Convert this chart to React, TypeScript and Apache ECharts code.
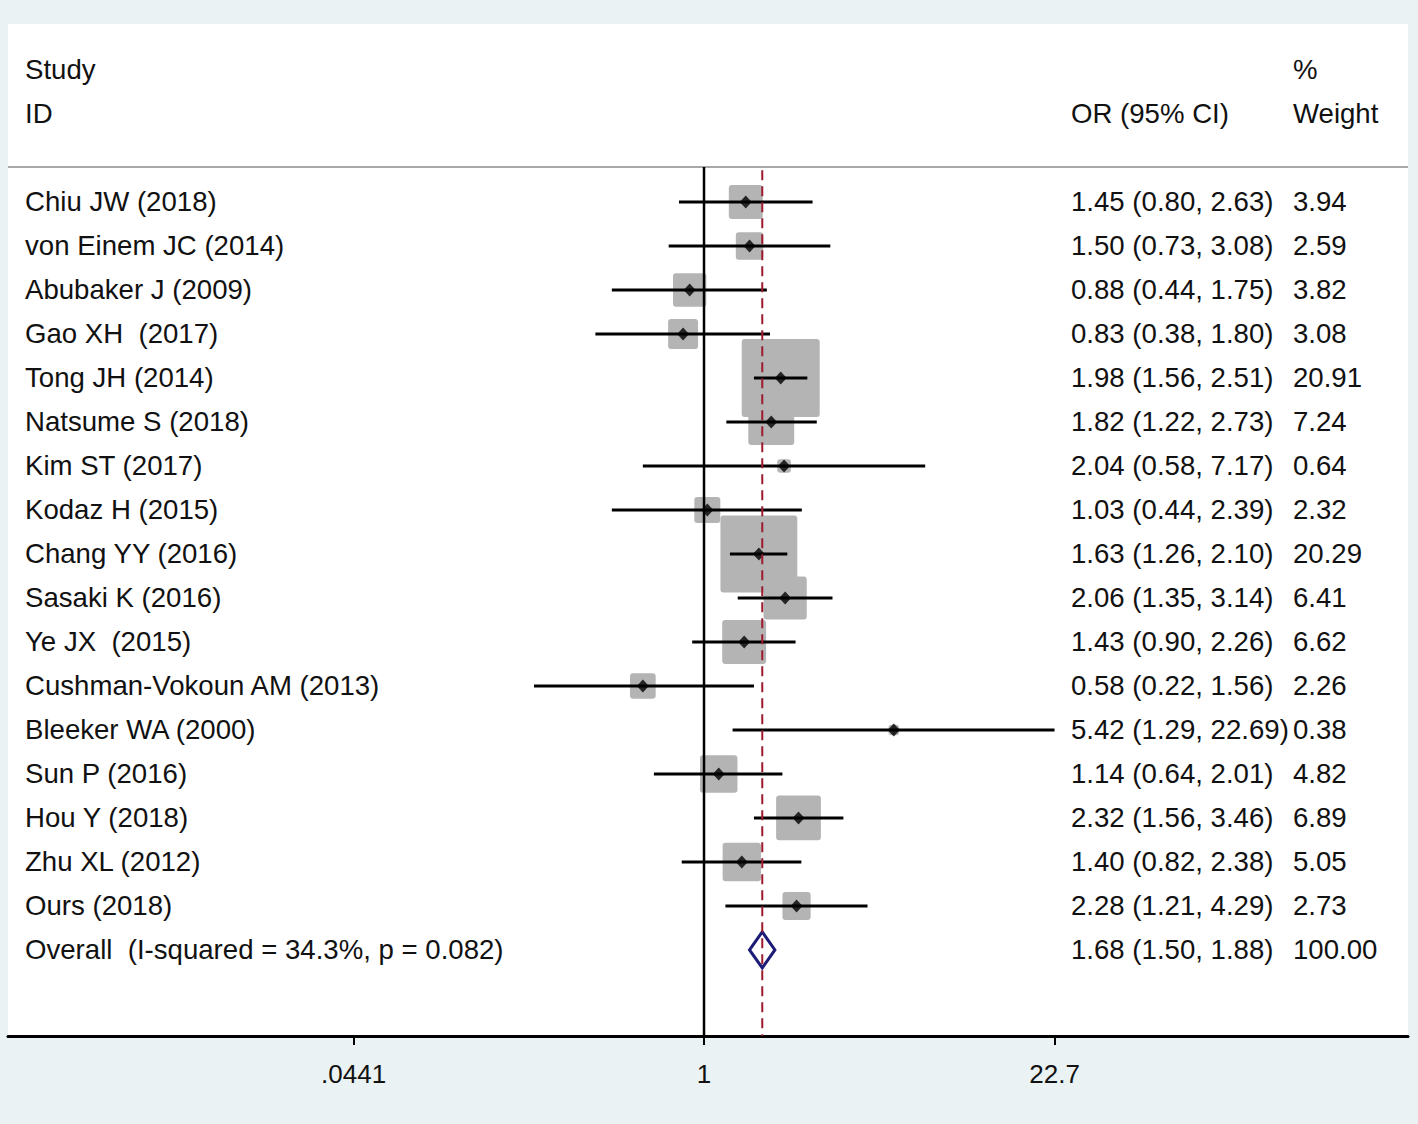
import React, { useEffect, useRef } from "react";
import * as echarts from "echarts";

const studies = [
  "Chiu JW (2018)",
  "von Einem JC (2014)",
  "Abubaker J (2009)",
  "Gao XH  (2017)",
  "Tong JH (2014)",
  "Natsume S (2018)",
  "Kim ST (2017)",
  "Kodaz H (2015)",
  "Chang YY (2016)",
  "Sasaki K (2016)",
  "Ye JX  (2015)",
  "Cushman-Vokoun AM (2013)",
  "Bleeker WA (2000)",
  "Sun P (2016)",
  "Hou Y (2018)",
  "Zhu XL (2012)",
  "Ours (2018)",
];
const orValues = [1.45, 1.5, 0.88, 0.83, 1.98, 1.82, 2.04, 1.03, 1.63, 2.06, 1.43, 0.58, 5.42, 1.14, 2.32, 1.4, 2.28];
const ciLower = [0.8, 0.73, 0.44, 0.38, 1.56, 1.22, 0.58, 0.44, 1.26, 1.35, 0.9, 0.22, 1.29, 0.64, 1.56, 0.82, 1.21];
const ciUpper = [2.63, 3.08, 1.75, 1.8, 2.51, 2.73, 7.17, 2.39, 2.1, 3.14, 2.26, 1.56, 22.69, 2.01, 3.46, 2.38, 4.29];
const weights = [3.94, 2.59, 3.82, 3.08, 20.91, 7.24, 0.64, 2.32, 20.29, 6.41, 6.62, 2.26, 0.38, 4.82, 6.89, 5.05, 2.73];

const overallLabel = "Overall  (I-squared = 34.3%, p = 0.082)";
const overallOR = 1.68;
const overallLower = 1.5;
const overallUpper = 1.88;
const overallWeight = 100.0;

const headerLeft = ["Study", "ID"];
const headerOR = "OR (95% CI)";
const headerWeight = ["%", "Weight"];

const tickValues = [0.0441, 1, 22.7];
const tickLabels = [".0441", "1", "22.7"];

const FONT = "'Liberation Sans', Arial, Helvetica, sans-serif";

export default function App() {
  const ref = useRef<HTMLDivElement>(null);
  useEffect(() => {
    document.body.style.margin = "0";
    const chart = echarts.init(ref.current!, null, { renderer: "svg" });
    const ln = Math.log;
    const n = studies.length;

    const xMin = -6.199;
    const xMax = 6.27;
    const yMin = -4.045;
    const yMax = 18.955;
    const sepY = -0.795;

    const fmt = (v: number) => v.toFixed(2);
    const textRows: any[] = [];
    studies.forEach((s, i) => {
      textRows.push([i, s, `${fmt(orValues[i])} (${fmt(ciLower[i])}, ${fmt(ciUpper[i])})`, fmt(weights[i])]);
    });
    textRows.push([n, overallLabel, `${fmt(overallOR)} (${fmt(overallLower)}, ${fmt(overallUpper)})`, fmt(overallWeight)]);
    textRows.push([-3, headerLeft[0], "", headerWeight[0]]);
    textRows.push([-2, headerLeft[1], headerOR, headerWeight[1]]);

    const textStyle = (t: string, x: number, y: number) => ({
      type: "text",
      x,
      y,
      style: {
        text: t,
        fill: "#111",
        fontSize: 27.6,
        fontFamily: FONT,
        verticalAlign: "middle",
        align: "left",
      },
    });

    const option: any = {
      animation: false,
      backgroundColor: "#eaf2f3",
      grid: {
        left: 8,
        top: 24,
        width: 1400,
        height: 1012,
        show: true,
        backgroundColor: "#ffffff",
        borderWidth: 0,
      },
      xAxis: {
        type: "value",
        min: xMin,
        max: xMax,
        position: "bottom",
        axisLine: { show: true, onZero: false, lineStyle: { color: "#000", width: 3 } },
        axisTick: {
          show: true,
          customValues: tickValues.map((v) => ln(v)),
          length: 9,
          lineStyle: { color: "#000", width: 2 },
        },
        axisLabel: {
          show: true,
          customValues: tickValues.map((v) => ln(v)),
          formatter: (v: number) => {
            let best = 0;
            tickValues.forEach((t, k) => {
              if (Math.abs(ln(t) - v) < Math.abs(ln(tickValues[best]) - v)) best = k;
            });
            return tickLabels[best];
          },
          color: "#111",
          fontSize: 26,
          fontFamily: FONT,
          margin: 25,
        },
        splitLine: { show: false },
      },
      yAxis: {
        type: "value",
        min: yMin,
        max: yMax,
        inverse: true,
        show: false,
        splitLine: { show: false },
      },
      series: [
        {
          type: "line",
          name: "sep",
          data: [
            [xMin, sepY],
            [xMax, sepY],
          ],
          symbol: "none",
          lineStyle: { color: "#a8a8a8", width: 2 },
          silent: true,
        },
        {
          type: "line",
          name: "null",
          data: [
            [0, sepY],
            [0, yMax],
          ],
          symbol: "none",
          lineStyle: { color: "#000", width: 2.5 },
          silent: true,
        },
        {
          type: "line",
          name: "overallLine",
          data: [
            [ln(overallOR), -0.72],
            [ln(overallOR), yMax],
          ],
          symbol: "none",
          lineStyle: { color: "#9b1c2c", width: 2, type: [10, 6] },
          silent: true,
        },
        {
          type: "custom",
          name: "boxes",
          data: studies.map((_, i) => [ln(orValues[i]), i, weights[i]]),
          renderItem: (params: any, api: any) => {
            const p = api.coord([api.value(0), api.value(1)]);
            const s = 17.06 * Math.sqrt(api.value(2));
            return {
              type: "rect",
              shape: { x: p[0] - s / 2, y: p[1] - s / 2, width: s, height: s, r: 3 },
              style: { fill: "#b4b4b4" },
            };
          },
          silent: true,
          clip: false,
        },
        {
          type: "custom",
          name: "ci",
          data: studies.map((_, i) => [ln(ciLower[i]), ln(ciUpper[i]), i]),
          renderItem: (params: any, api: any) => {
            const a = api.coord([api.value(0), api.value(2)]);
            const b = api.coord([api.value(1), api.value(2)]);
            return {
              type: "line",
              shape: { x1: a[0], y1: a[1], x2: b[0], y2: b[1] },
              style: { stroke: "#000", lineWidth: 3 },
            };
          },
          silent: true,
          clip: false,
        },
        {
          type: "scatter",
          name: "points",
          data: studies.map((_, i) => [ln(orValues[i]), i]),
          symbol: "diamond",
          symbolSize: [12, 13],
          itemStyle: { color: "#000" },
          silent: true,
        },
        {
          type: "custom",
          name: "overall",
          data: [[ln(overallLower), ln(overallOR), ln(overallUpper), n]],
          renderItem: (params: any, api: any) => {
            const l = api.coord([api.value(0), api.value(3)]);
            const c = api.coord([api.value(1), api.value(3)]);
            const r = api.coord([api.value(2), api.value(3)]);
            const h = 18;
            return {
              type: "polygon",
              shape: {
                points: [
                  [l[0], l[1]],
                  [c[0], c[1] - h],
                  [r[0], r[1]],
                  [c[0], c[1] + h],
                ],
              },
              style: { fill: "#ffffff", stroke: "#1c1c78", lineWidth: 3, lineJoin: "miter" },
            };
          },
          silent: true,
          clip: false,
        },
        {
          type: "custom",
          name: "texts",
          data: textRows.map((r) => [0, r[0]]),
          renderItem: (params: any, api: any) => {
            const row = textRows[params.dataIndex];
            const p = api.coord([0, api.value(1)]);
            const children: any[] = [];
            if (row[1]) children.push(textStyle(row[1], 25, p[1]));
            if (row[2]) children.push(textStyle(row[2], 1071, p[1]));
            if (row[3]) children.push(textStyle(row[3], 1293, p[1]));
            return { type: "group", children };
          },
          silent: true,
          clip: false,
        },
      ],
    };
    chart.setOption(option);
    return () => chart.dispose();
  }, []);
  return <div ref={ref} style={{ width: 1418, height: 1124 }} />;
}
